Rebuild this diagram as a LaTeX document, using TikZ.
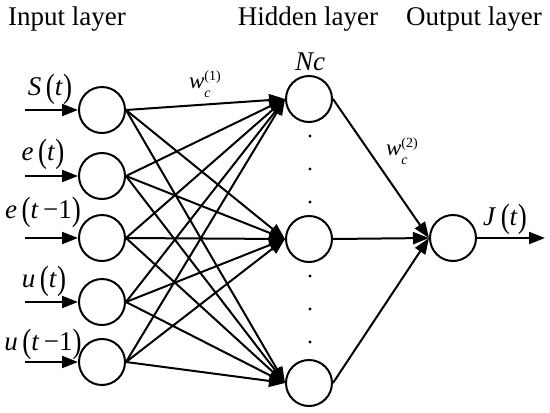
\documentclass[tikz,border=0pt]{standalone}
\usepackage{fontspec}
\setmainfont{Liberation Serif}
\usetikzlibrary{arrows.meta}

\newcommand{\wlab}[1]{\textit{w}\rlap{\raisebox{-9pt}{\fontsize{14}{14}\selectfont\textit{c}}}\raisebox{8pt}{\fontsize{14}{14}\selectfont(#1)}}
\newcommand{\tpar}[1]{\raisebox{-2.5pt}{\scalebox{1}[1.25]{#1}}}

\begin{document}
\begin{tikzpicture}[x=1pt, y=-1pt, line width=2pt,
    neuron/.style={circle, draw, minimum size=46pt, inner sep=0pt},
    title/.style={font=\fontsize{27}{30}\selectfont, anchor=base},
    sig/.style={font=\fontsize{27}{30}\selectfont, anchor=base, inner sep=0pt},
    wtext/.style={font=\fontsize{23}{24}\selectfont, anchor=base west, inner sep=0pt},
    >={Triangle[length=16pt,width=12pt]}]
    \useasboundingbox (0,0) rectangle (550,413);

    % Layer titles
    \node[title] (tin) at (67,25) {Input layer};
    \node[title] (thid) at (308,25) {Hidden layer};
    \node[title] (tout) at (474,25) {Output layer};

    % Input layer
    \node[neuron] (i1) at (102,110) {};
    \node[neuron] (i2) at (102,176) {};
    \node[neuron] (i3) at (102,238) {};
    \node[neuron] (i4) at (102,302) {};
    \node[neuron] (i5) at (102,362) {};

    % Hidden layer
    \node[neuron] (h1) at (309,99) {};
    \node[neuron] (h2) at (309,239) {};
    \node[neuron] (h3) at (309,383) {};
    \node[sig] (nc) at (310,70) {\textit{Nc}};
    \foreach \y in {136,169,202,276,309,342}
        \fill (310,\y) circle (1.6pt);

    % Output layer
    \node[neuron] (o) at (453,238) {};

    % Input arrows and labels
    \foreach \i/\y in {1/110,2/176,3/238,4/302,5/362}{
        \coordinate (a\i) at (25,\y);
        \draw[->] (a\i) -- (i\i.west);
    }
    \node[sig] (ls) at (50,95) {\textit{S}\,\tpar{(}\textit{t}\tpar{)}};
    \node[sig] (le1) at (43,160) {\textit{e}\,\tpar{(}\textit{t}\tpar{)}};
    \node[sig] (le2) at (43,218) {\textit{e}\,\tpar{(}\textit{t}\,−1\tpar{)}};
    \node[sig] (lu1) at (44,287) {\textit{u}\,\tpar{(}\textit{t}\tpar{)}};
    \node[sig] (lu2) at (43,350) {\textit{u}\,\tpar{(}\textit{t}\,−1\tpar{)}};

    % Weights input -> hidden
    \foreach \i in {1,...,5}
        \foreach \h in {1,2,3}
            \draw[->] (i\i.east) -- (h\h.west);
    \node[wtext] (w1) at (188,88) {\wlab{1}};

    % Weights hidden -> output
    \foreach \h in {1,2,3}
        \draw[->] (h\h.east) -- (o.west);
    \node[wtext] (w2) at (385,155) {\wlab{2}};

    % Output
    \coordinate (jout) at (545,238);
    \draw[->] (o.east) -- (jout);
    \node[sig] (lj) at (505,225) {\textit{J}\,\tpar{(}\textit{t}\tpar{)}};
\end{tikzpicture}
\end{document}
